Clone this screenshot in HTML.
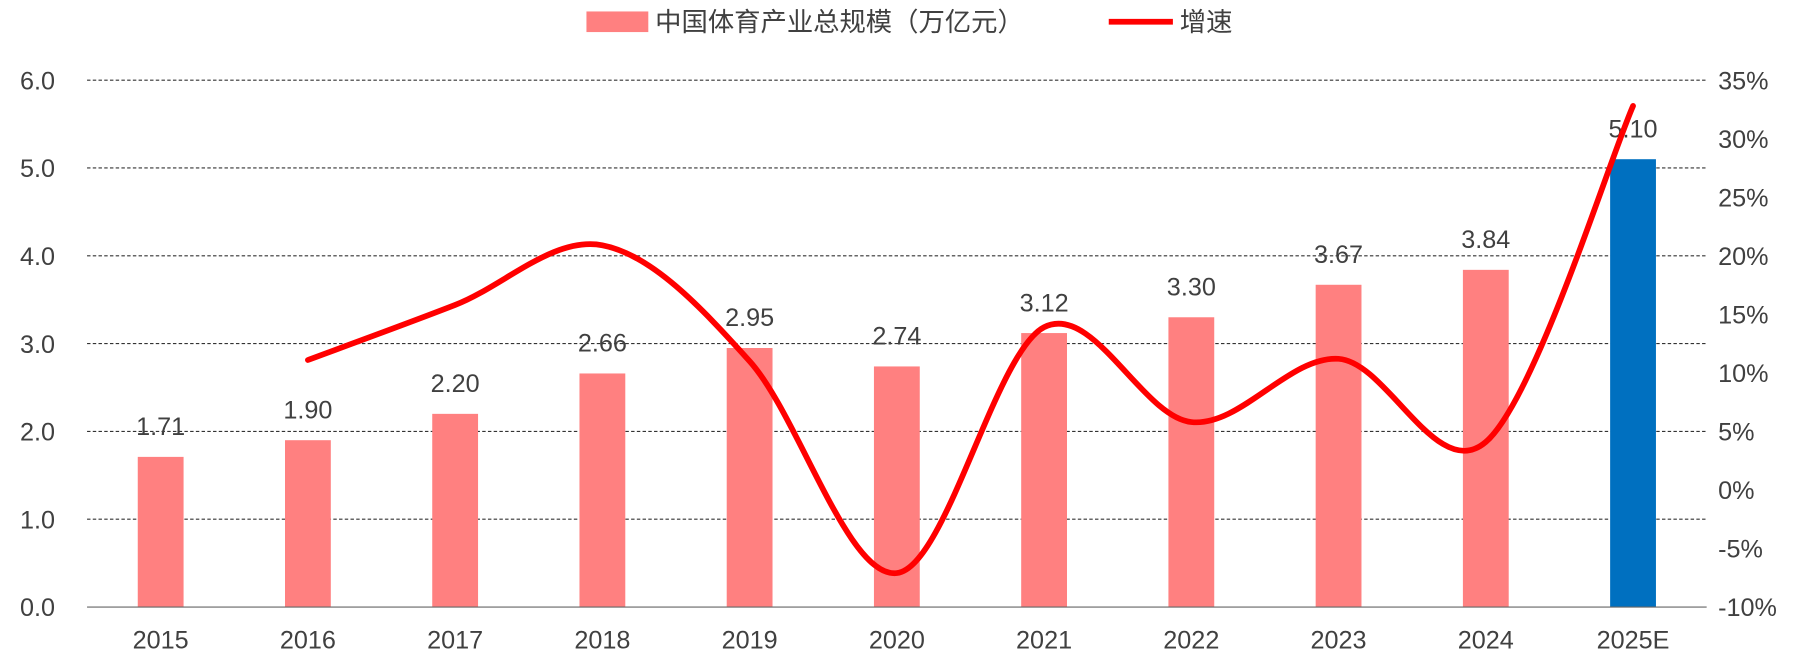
<!DOCTYPE html>
<html><head><meta charset="utf-8"><style>
body{margin:0;background:#fff}
svg{display:block}
svg text{font-family:"Liberation Sans","Noto Sans CJK SC",sans-serif;fill:#404040}
</style></head><body>
<svg id="c" width="1796" height="654" viewBox="0 0 1568 571" preserveAspectRatio="none" xmlns="http://www.w3.org/2000/svg">
<g>
<rect x="512" y="10" width="54" height="18" fill="#FF8080"/>
<text x="572" y="27" font-size="23">中国体育产业总规模（万亿元）</text>
<line x1="968" y1="19" x2="1024" y2="19" stroke="#FF0000" stroke-width="5"/>
<text x="1030" y="27" font-size="23">增速</text>
</g>
<g id="grid"></g><g id="bars"></g><g id="labels"></g><g id="line"></g><g id="axes"></g>
</svg>
<script>
const categories=["2015","2016","2017","2018","2019","2020","2021","2022","2023","2024","2025E"];
const sizes=[1.71,1.90,2.20,2.66,2.95,2.74,3.12,3.30,3.67,3.84,5.10];
const growth=[null,11.1,15.8,20.9,11.0,-7.1,13.9,5.8,11.2,4.1,32.8];
const leftTicks=["0.0","1.0","2.0","3.0","4.0","5.0","6.0"];
const rightTicks=["-10%","-5%","0%","5%","10%","15%","20%","25%","30%","35%"];
const NS="http://www.w3.org/2000/svg";
const plotTop=70,plotBot=530,x0=76,x1=1490;
const yL=v=>plotBot-(v/6)*(plotBot-plotTop);
const yR=v=>plotBot-((v+10)/45)*(plotBot-plotTop);
const step=(x1-x0)/categories.length;
const xC=i=>x0+step*(i+0.5);
function mk(t,a,p){const e=document.createElementNS(NS,t);for(const k in a)e.setAttribute(k,a[k]);p.appendChild(e);return e;}
const g=document.getElementById('grid'),ax=document.getElementById('axes');
leftTicks.forEach((t,i)=>{const v=parseFloat(t),y=yL(v);
 if(v>0){const l=mk('line',{x1:x0,x2:x1,y1:y,y2:y,stroke:'#333','stroke-width':1,'stroke-dasharray':'3,2'},g);
 
 }
 const tx=mk('text',{x:48,y:y+8,'font-size':22,'text-anchor':'end'},ax);tx.textContent=t;
 
 });
rightTicks.forEach(t=>{const v=parseFloat(t),y=yR(v);
 const tx=mk('text',{x:1500,y:y+8,'font-size':22},ax);tx.textContent=t;
 
 });
const base=mk('line',{x1:x0,x2:x1,y1:plotBot,y2:plotBot,stroke:'#666','stroke-width':1},ax);


const b=document.getElementById('bars'),lb=document.getElementById('labels');
sizes.forEach((v,i)=>{const last=i===sizes.length-1;
 const r=mk('rect',{x:xC(i)-20,y:yL(v),width:40,height:plotBot-yL(v),fill:last?'#0070C0':'#FF8080'},b);
 
 
 const t=mk('text',{x:xC(i),y:yL(v)-19,'font-size':22,'text-anchor':'middle'},lb);t.textContent=v.toFixed(2);
 
 
 const c=mk('text',{x:xC(i),y:566,'font-size':22,'text-anchor':'middle'},ax);c.textContent=categories[i];
 
 });
const pts=[];growth.forEach((v,i)=>{if(v!==null)pts.push([xC(i),yR(v)]);});
let d='M'+pts[0][0]+','+pts[0][1];
for(let i=0;i<pts.length-1;i++){const p0=pts[Math.max(0,i-1)],p1=pts[i],p2=pts[i+1],p3=pts[Math.min(pts.length-1,i+2)];
 const c1=[p1[0]+(p2[0]-p0[0])/6,p1[1]+(p2[1]-p0[1])/6],c2=[p2[0]-(p3[0]-p1[0])/6,p2[1]-(p3[1]-p1[1])/6];
 d+=' C'+c1+' '+c2+' '+p2;}
const path=mk('path',{d:d,fill:'none',stroke:'#FF0000','stroke-width':5,'stroke-linecap':'round'},document.getElementById('line'));


</script>
</body></html>
